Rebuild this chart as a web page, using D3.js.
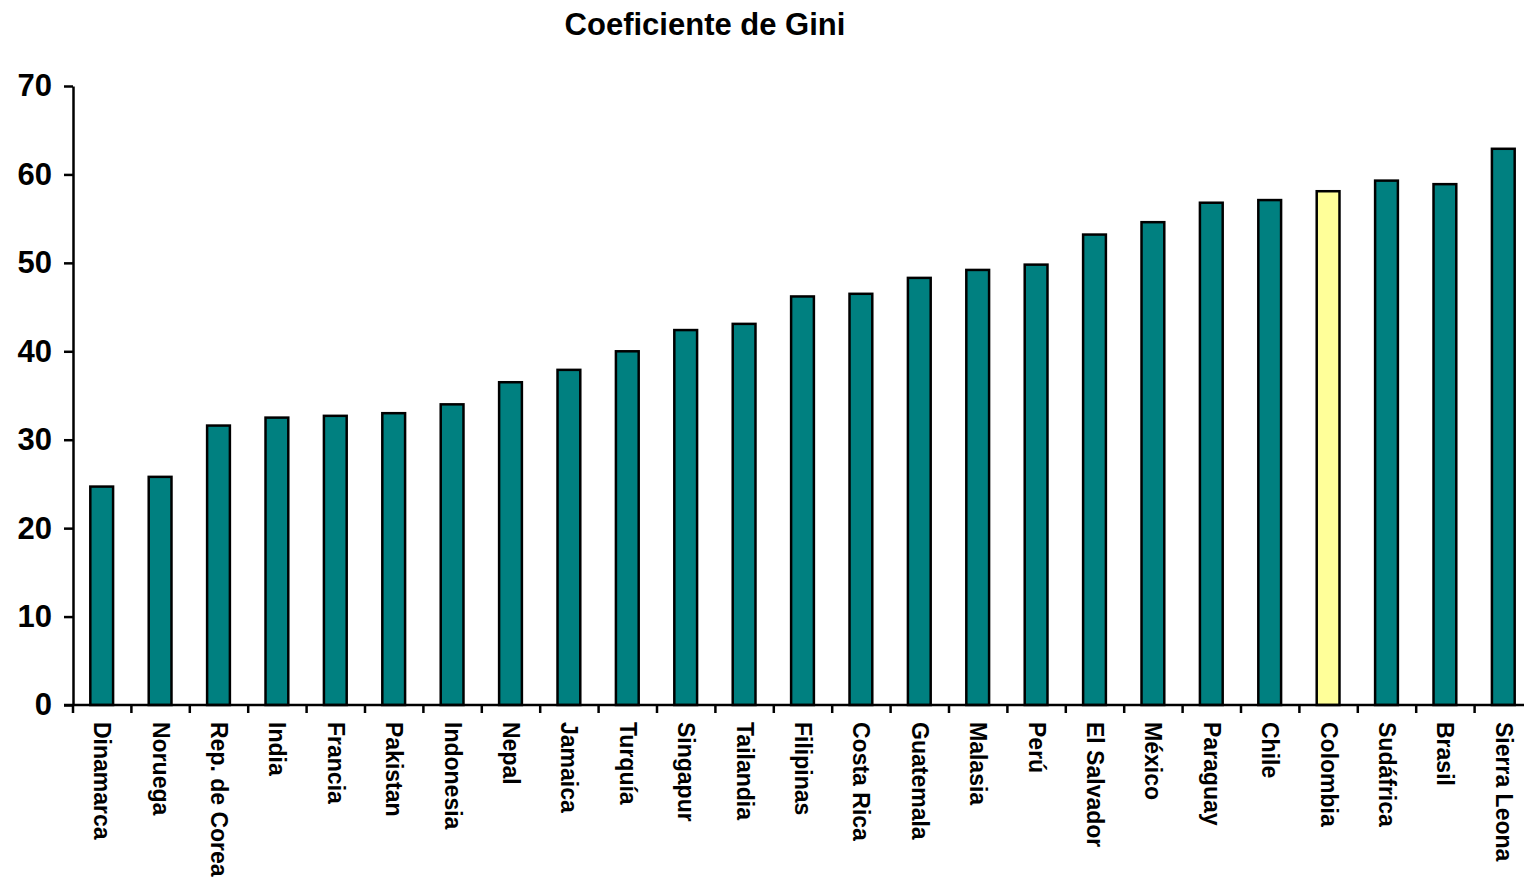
<!DOCTYPE html>
<html>
<head>
<meta charset="utf-8">
<script src="https://cdn.jsdelivr.net/npm/d3@7"></script>
<style>
  body { margin: 0; background: #fff; }
  svg { display: block; font-family: Arial, "Liberation Sans", sans-serif; }
</style>
</head>
<body>
<div class="container"></div>
<script>
// data
var countries = ["Dinamarca", "Noruega", "Rep. de Corea", "India", "Francia", "Pakistan",
    "Indonesia", "Nepal", "Jamaica", "Turquía", "Singapur", "Tailandia", "Filipinas",
    "Costa Rica", "Guatemala", "Malasia", "Perú", "El Salvador", "México", "Paraguay",
    "Chile", "Colombia", "Sudáfrica", "Brasil", "Sierra Leona"];
var gini = [24.7, 25.8, 31.6, 32.5, 32.7, 33.0, 34.0, 36.5, 37.9, 40.0, 42.4, 43.1, 46.2,
    46.5, 48.3, 49.2, 49.8, 53.2, 54.6, 56.8, 57.1, 58.1, 59.3, 58.9, 62.9];
var highlight = "Colombia";
var yTicks = [0, 10, 20, 30, 40, 50, 60, 70];

var width = 1524, height = 883;
// plot edges (window.top is reserved, so prefixed names)
var plotLeft = 73, plotRight = 1533, plotTop = 86, plotBottom = 705;

var svg = d3.select(".container").append("svg")
    .attr("width", width)
    .attr("height", height);

var x = d3.scaleBand().domain(countries).range([plotLeft, plotRight]).padding(0);
var y = d3.scaleLinear().domain([0, 70]).range([plotBottom, plotTop]);

// title
svg.append("text")
    .attr("x", 705)
    .attr("y", 35)
    .attr("text-anchor", "middle")
    .style("font-weight", "bold")
    .style("font-size", "31px")
    .text("Coeficiente de Gini");

// bars
var barW = x.bandwidth() * 0.39;
svg.selectAll("rect.bar")
    .data(countries)
    .enter()
    .append("rect")
    .attr("class", "bar")
    .attr("x", function(d) { return x(d) + x.bandwidth() / 2 - barW / 2 - 0.5; })
    .attr("y", function(d, i) { return y(gini[i]); })
    .attr("width", barW)
    .attr("height", function(d, i) { return y(0) - y(gini[i]); })
    .attr("fill", function(d) { return d == highlight ? "#FFFF99" : "#008080"; })
    .attr("stroke", "#000")
    .attr("stroke-width", 2.5);

// y axis
var yAxis = svg.append("g")
    .attr("transform", "translate(" + plotLeft + ",0)")
    .call(d3.axisLeft(y).tickValues(yTicks).tickSize(9).tickPadding(12).tickSizeOuter(0));
yAxis.select(".domain").attr("stroke-width", 2.5);
yAxis.selectAll(".tick line").attr("stroke-width", 2.5);
yAxis.selectAll(".tick text")
    .attr("fill", "#000")
    .style("font-family", "Arial, 'Liberation Sans', sans-serif")
    .style("font-weight", "bold")
    .style("font-size", "31px");

// x axis: line and ticks at band edges
var xg = svg.append("g");
xg.append("line")
    .attr("x1", plotLeft - 9).attr("x2", plotRight)
    .attr("y1", plotBottom).attr("y2", plotBottom)
    .attr("stroke", "#000").attr("stroke-width", 2.5);
xg.selectAll("line.xt")
    .data(countries)
    .enter()
    .append("line")
    .attr("class", "xt")
    .attr("x1", function(d) { return x(d); })
    .attr("x2", function(d) { return x(d); })
    .attr("y1", plotBottom)
    .attr("y2", plotBottom + 8)
    .attr("stroke", "#000").attr("stroke-width", 2.5);

xg.selectAll("text")
    .data(countries)
    .enter()
    .append("text")
    .attr("transform", function(d) {
        return "translate(" + (x(d) + x.bandwidth() / 2) + "," + (plotBottom + 17) + ") rotate(90)";
    })
    .attr("dy", "0.35em")
    .attr("text-anchor", "start")
    .style("font-weight", "bold")
    .style("font-size", "23px")
    .text(function(d) { return d; });
</script>
</body>
</html>
